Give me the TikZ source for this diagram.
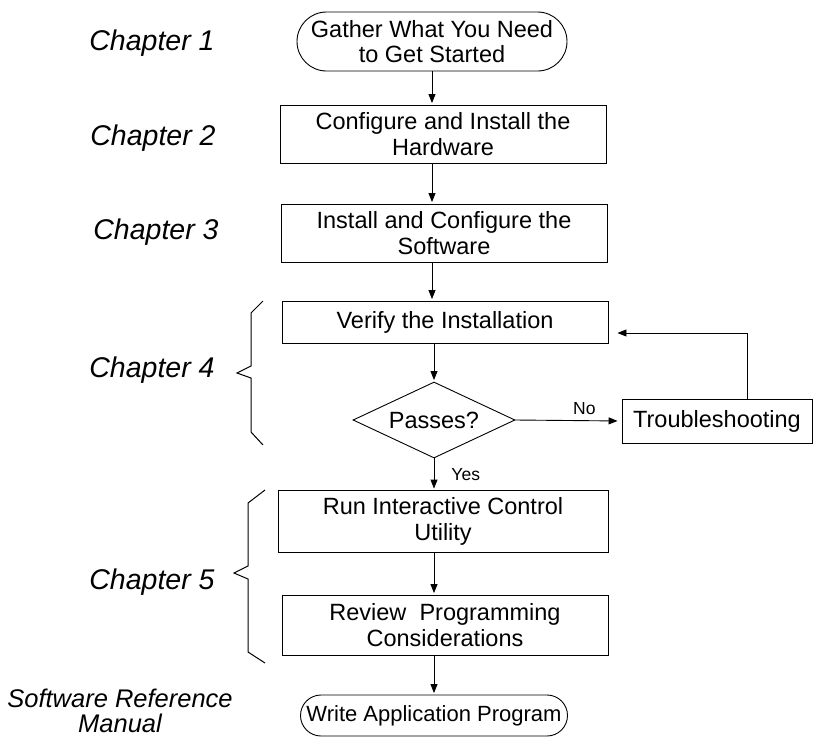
\documentclass[tikz,border=0pt]{standalone}
\usepackage{fontspec}
\setmainfont{Liberation Sans}
\usetikzlibrary{arrows.meta,shapes.geometric}
\begin{document}
\begin{tikzpicture}[x=1pt,y=-1pt,
  every node/.style={font=\fontsize{23.5}{25.5}\selectfont, align=center, inner sep=0pt},
  box/.style={draw, line width=0.9pt, rectangle},
  term/.style={draw, line width=0.9pt, rectangle},
  dia/.style={draw, line width=0.9pt, diamond, aspect=2.13, minimum width=162pt, minimum height=76pt, inner sep=0pt},
  chap/.style={font=\fontsize{28.5}{30}\selectfont\itshape},
  small/.style={font=\fontsize{17.5}{19}\selectfont},
  arr/.style={line width=0.9pt, -{Triangle[length=9pt,width=7pt]}, shorten >=1.5pt},
  brace/.style={line width=1pt, line join=miter}
]
\useasboundingbox (0,0) rectangle (813,739);

% nodes
\node[term, minimum width=270pt, minimum height=59pt, rounded corners=29.5pt] (start) at (432,41.5) {Gather What You Need\\to Get Started};
\node[box, minimum width=326pt, minimum height=58pt] (hw) at (443,134) {Configure and Install the\\Hardware};
\node[box, minimum width=326pt, minimum height=58pt] (sw) at (444,233) {Install and Configure the\\Software};
\node[box, minimum width=326pt, minimum height=42pt] (ver) at (445,322) {Verify the Installation};
\node[dia] (pass) at (434,420) {Passes?};
\node[box, minimum width=190pt, minimum height=44pt] (tr) at (717,421) {Troubleshooting};
\node[box, minimum width=330pt, minimum height=62pt] (run) at (443,521.5) {Run Interactive Control\\Utility};
\node[box, minimum width=326pt, minimum height=60pt] (rev) at (445,625) {Review\ \ Programming\\Considerations};
\node[term, minimum width=267pt, minimum height=41pt, rounded corners=20.5pt, font=\fontsize{22}{24}\selectfont] (end) at (434,715.5) {Write Application Program};

% chapter labels
\node[chap] (c1) at (152,43) {Chapter 1};
\node[chap] (c2) at (153,138) {Chapter 2};
\node[chap] (c3) at (156,232) {Chapter 3};
\node[chap] (c4) at (152,370) {Chapter 4};
\node[chap] (c5) at (152,582) {Chapter 5};
\node[font=\fontsize{25.5}{25}\selectfont\itshape] (srm) at (120,711) {Software Reference\\Manual};

% connectors
\draw[arr] (start.south) -- (start |- hw.north);
\draw[arr] (start |- hw.south) -- (start |- sw.north);
\draw[arr] (start |- sw.south) -- (start |- ver.north);
\draw[arr] (pass |- ver.south) -- (pass.north);
\draw[arr, shorten >=4pt] (pass.east) -- (tr.west) node[small, pos=0.65, above=6pt] {No};
\draw[arr] (pass.south) -- (pass |- run.north) node[small, midway, right=17pt] {Yes};
\draw[arr] (pass |- run.south) -- (pass |- rev.north);
\draw[arr] (pass |- rev.south) -- (end.north);
\draw[arr, shorten >=0pt] ([xshift=30pt]tr.north) |- ([xshift=9pt,yshift=-11pt]ver.east);

% braces
\draw[brace] (263,301) -- (251,313) -- (251,366) -- (237,373) -- (251,378) -- (251,432) -- (263,445);
\draw[brace] (265,490) -- (248,503) -- (248,566) -- (234,573) -- (248,579) -- (248,652) -- (265,663);
\end{tikzpicture}
\end{document}
